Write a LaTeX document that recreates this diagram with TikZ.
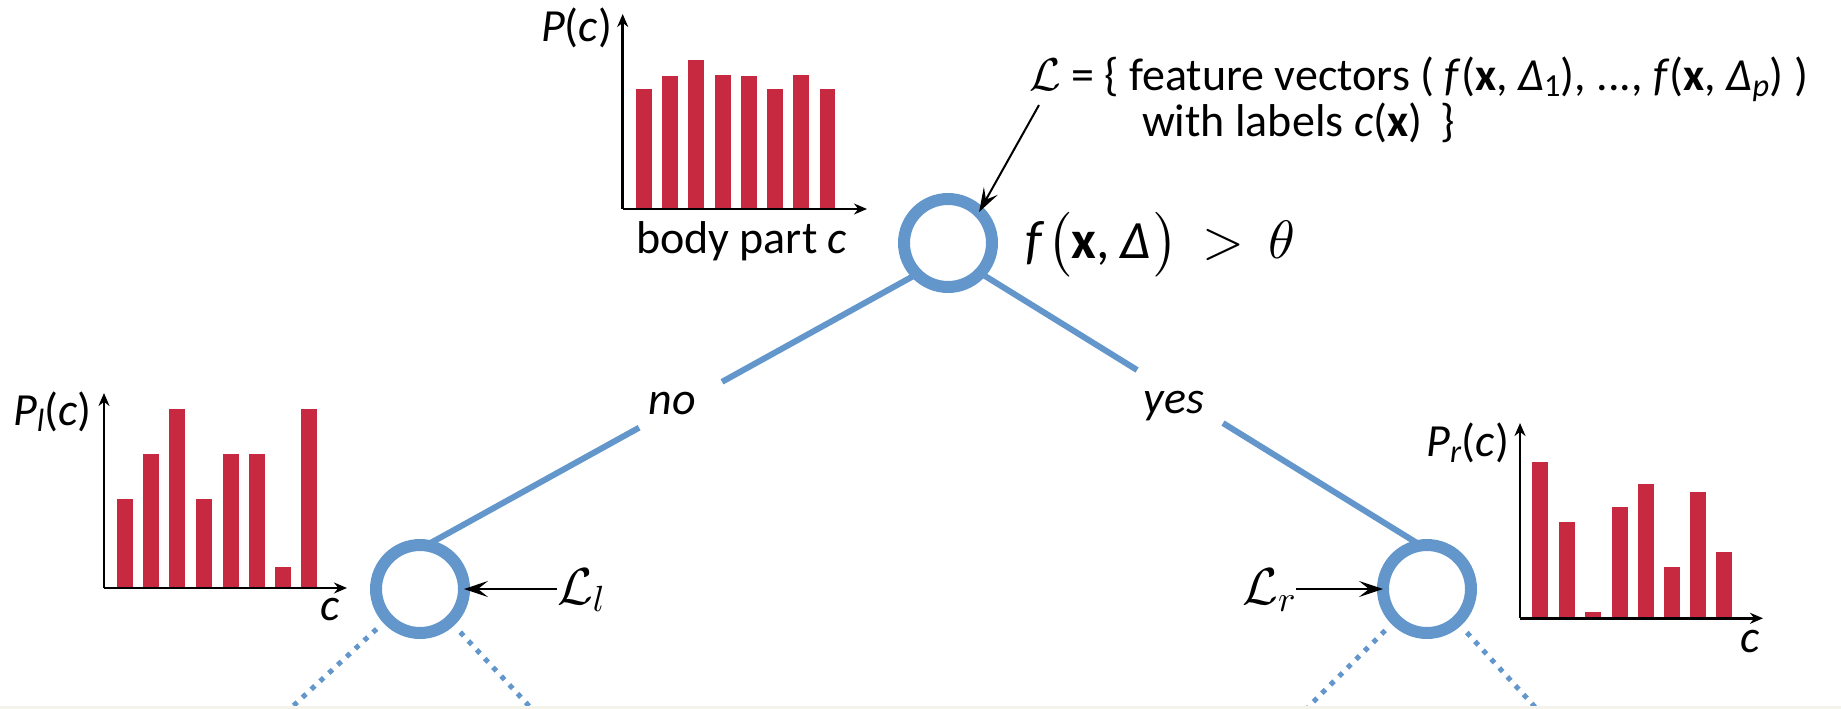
\documentclass[tikz,border=0pt]{standalone}
\usepackage{amsmath}
\usepackage{fontspec}
\setmainfont{Carlito}
\DeclareFontShape{OML}{cmm}{m}{it}{<->cmmi10}{}
\DeclareFontShape{OMS}{cmsy}{m}{n}{<->cmsy10}{}
\DeclareFontShape{OMX}{cmex}{m}{n}{<->cmex10}{}
\DeclareFontShape{OT1}{cmr}{m}{n}{<->cmr10}{}
\usetikzlibrary{arrows.meta,calc}
\definecolor{barred}{RGB}{198,41,64}
\definecolor{treeblue}{RGB}{99,150,202}
\definecolor{stripgray}{RGB}{243,243,236}
\begin{document}
\begin{tikzpicture}[x=1pt,y=-1pt,
  every node/.style={inner sep=0pt, outer sep=0pt, font=\fontsize{46}{52}\selectfont},
  ring/.style={circle, draw=treeblue, fill=white, line width=12pt, minimum size=88pt},
  branch/.style={draw=treeblue, line width=6pt},
  dotbranch/.style={draw=treeblue, line width=5pt, dash pattern=on 5pt off 7pt, shorten <=15pt},
  bar/.style={fill=barred},
  axis/.style={draw=black, line width=2.5pt, -{Stealth[length=13pt,width=11pt]}},
  pointer/.style={draw=black, line width=2pt, -{Stealth[length=24pt,width=16pt,inset=10pt]}},
  lab/.style={font=\fontsize{46}{52}\selectfont\itshape},
  mathlab/.style={font=\fontsize{52}{58}\selectfont}
]
\useasboundingbox (0,0) rectangle (1841,709);

% ---------- top histogram ----------
\foreach \x/\t in {636/89.3, 662.3/76, 688.3/60, 715/74.7, 741.3/76, 767.3/89.3, 793.3/74.7, 819.7/89.3}
  \fill[bar] (\x,209) rectangle ++(15.7,\t-209);
\coordinate (tO) at (622.7,209);
\coordinate (tY) at (622.7,14);
\coordinate (tX) at (867,209);
\draw[axis] (tO) -- (tY);
\draw[axis] (tO) -- (tX);
\node[anchor=base east] (tP) at (612,42) {\textit{P}(\textit{c})};
\node[anchor=base west] (tC) at (636,253) {body part \textit{c}};

% ---------- left histogram ----------
\foreach \x/\t in {116.7/499, 143.3/454.3, 169.3/409.3, 196/499, 222.7/454.3, 249/454.3, 275/566.7, 301/409.3}
  \fill[bar] (\x,588) rectangle ++(16,\t-588);
\coordinate (lO) at (104,588);
\coordinate (lY) at (104,393);
\coordinate (lX) at (347,588);
\draw[axis] (lO) -- (lY);
\draw[axis] (lO) -- (lX);
\node[anchor=base west] (lP) at (13,425) {\textit{P}\textsubscript{\textit{l}}(\textit{c})};
\node[anchor=base] (lC) at (330,620) {\textit{c}};

% ---------- right histogram ----------
\foreach \x/\t in {1532.3/462.3, 1558.7/522.3, 1585/612.3, 1612/507.3, 1638/484, 1664.3/567, 1690/492, 1716.3/552.3}
  \fill[bar] (\x,618.3) rectangle ++(16,\t-618.3);
\coordinate (rO) at (1520,618.3);
\coordinate (rY) at (1520,423);
\coordinate (rX) at (1763,618.3);
\draw[axis] (rO) -- (rY);
\draw[axis] (rO) -- (rX);
\node[anchor=base east] (rP) at (1509,456) {\textit{P}\textsubscript{\textit{r}}(\textit{c})};
\node[anchor=base] (rC) at (1750,652) {\textit{c}};

% ---------- tree nodes ----------
\node[ring] (top) at (948,243) {};
\node[ring] (lnode) at (420,589) {};
\node[ring] (rnode) at (1427,589) {};

% branches with gaps for the labels
\coordinate (noA)  at ($(top.225)!0.397!(lnode.82)$);
\coordinate (noB)  at ($(top.225)!0.566!(lnode.82)$);
\coordinate (yesA) at ($(top.-43)!0.356!(rnode.98)$);
\coordinate (yesB) at ($(top.-43)!0.551!(rnode.98)$);
\draw[branch] (top.225) -- (noA);
\draw[branch] (noB) -- (lnode.82);
\draw[branch] (top.-43) -- (yesA);
\draw[branch] (yesB) -- (rnode.98);
\node[lab, anchor=base] (no) at (672,414) {no};
\node[lab, anchor=base] (yes) at (1174,413) {yes};

% dotted continuations
\coordinate (dLL) at (292,707);
\coordinate (dLR) at (530,707);
\coordinate (dRL) at (1308,707);
\coordinate (dRR) at (1535,707);
\draw[dotbranch] (lnode) -- (dLL);
\draw[dotbranch] (lnode) -- (dLR);
\draw[dotbranch] (rnode) -- (dRL);
\draw[dotbranch] (rnode) -- (dRR);

% ---------- texts ----------
\node[anchor=base west, font=\fontsize{54}{60}\selectfont] (split) at (1025,258) {\textit{f}\kern3pt$\bigl($\textbf{x},\kern10pt \textit{Δ}\kern3pt$\bigr)\,>\,\theta$};
\node[anchor=base west] (featA) at (1029,90) {$\mathcal{L}$ = \{ feature vectors ( \textit{f}(\textbf{x}, \textit{Δ}\textsubscript{1}), ..., \textit{f}(\textbf{x}, \textit{Δ}\textsubscript{\textit{p}}) )};
\node[anchor=base west] (featB) at (1142,136) {with labels \textit{c}(\textbf{x})\, \}};
\coordinate (fstart) at (1039,105);
\draw[pointer] (fstart) -- (top.45);

\node[mathlab, anchor=base west] (Ll) at (557,604) {$\mathcal{L}_l$};
\draw[pointer] (lnode.east -| Ll.west) -- (lnode.east);
\node[mathlab, anchor=base east] (Lr) at (1296,604) {$\mathcal{L}_r$};
\draw[pointer] (rnode.west -| Lr.east) -- (rnode.west);

% bottom strip
\fill[stripgray] (0,706) rectangle (1841,709);
\end{tikzpicture}
\end{document}
